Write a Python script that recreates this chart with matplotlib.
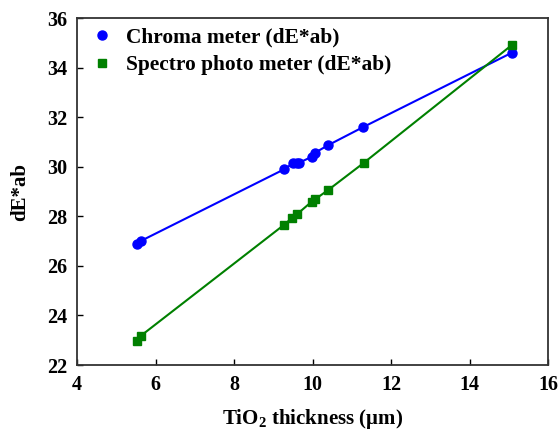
import matplotlib.pyplot as plt

# TiO2 thickness (um) vs dE*ab
x_chroma = [5.52, 5.62, 9.27, 9.51, 9.60, 9.66, 9.98, 10.06, 10.40, 11.28, 15.08]
y_chroma = [26.90, 27.00, 29.89, 30.14, 30.16, 30.16, 30.40, 30.56, 30.87, 31.59, 34.60]

x_spectro = [5.52, 5.62, 9.27, 9.47, 9.61, 9.98, 10.06, 10.40, 11.31, 15.08]
y_spectro = [22.98, 23.17, 27.65, 27.92, 28.09, 28.59, 28.68, 29.06, 30.16, 34.91]

xticks = [4, 6, 8, 10, 12, 14, 16]
yticks = [22, 24, 26, 28, 30, 32, 34, 36]

plt.rcParams['font.family'] = ['Liberation Serif', 'DejaVu Serif']
plt.rcParams['font.weight'] = 'bold'
plt.rcParams['mathtext.fontset'] = 'custom'
plt.rcParams['mathtext.rm'] = 'Liberation Serif:bold'
plt.rcParams['mathtext.bf'] = 'Liberation Serif:bold'

fig = plt.figure(figsize=(5.59, 4.36), dpi=100)
ax = fig.add_axes([77 / 559, 1 - 365 / 436, 471 / 559, 347 / 436])

ax.plot(x_chroma, y_chroma, '-', color='blue', lw=1.5)
ax.plot(x_chroma, y_chroma, 'o', color='blue', ms=6.5, label='Chroma meter (dE*ab)')
ax.plot(x_spectro, y_spectro, '-', color='green', lw=1.5)
ax.plot(x_spectro, y_spectro, 's', color='green', ms=5.8, label='Spectro photo meter (dE*ab)')

ax.set_xlim(4, 16)
ax.set_ylim(22, 36)
ax.set_xticks(xticks)
ax.set_yticks(yticks)
ax.tick_params(direction='in', length=4, width=1, labelsize=14.5, top=False, right=False, pad=7)
for lab in ax.get_xticklabels() + ax.get_yticklabels():
    lab.set_fontweight('bold')
for s in ax.spines.values():
    s.set_linewidth(1.3)
    s.set_color('#333333')

ax.set_xlabel(r'TiO$_2$ thickness ($\mathrm{\mu}$m)', fontsize=15, fontweight='bold', labelpad=9)
ax.set_ylabel('dE*ab', fontsize=15, fontweight='bold', labelpad=12)

ax.legend(loc='upper left', frameon=False, fontsize=15.4, handlelength=1.0,
          handletextpad=0.6, borderaxespad=0.3, borderpad=0.15,
          labelspacing=0.35, bbox_to_anchor=(0.01, 1.0))

fig.savefig('out.png', dpi=100)
